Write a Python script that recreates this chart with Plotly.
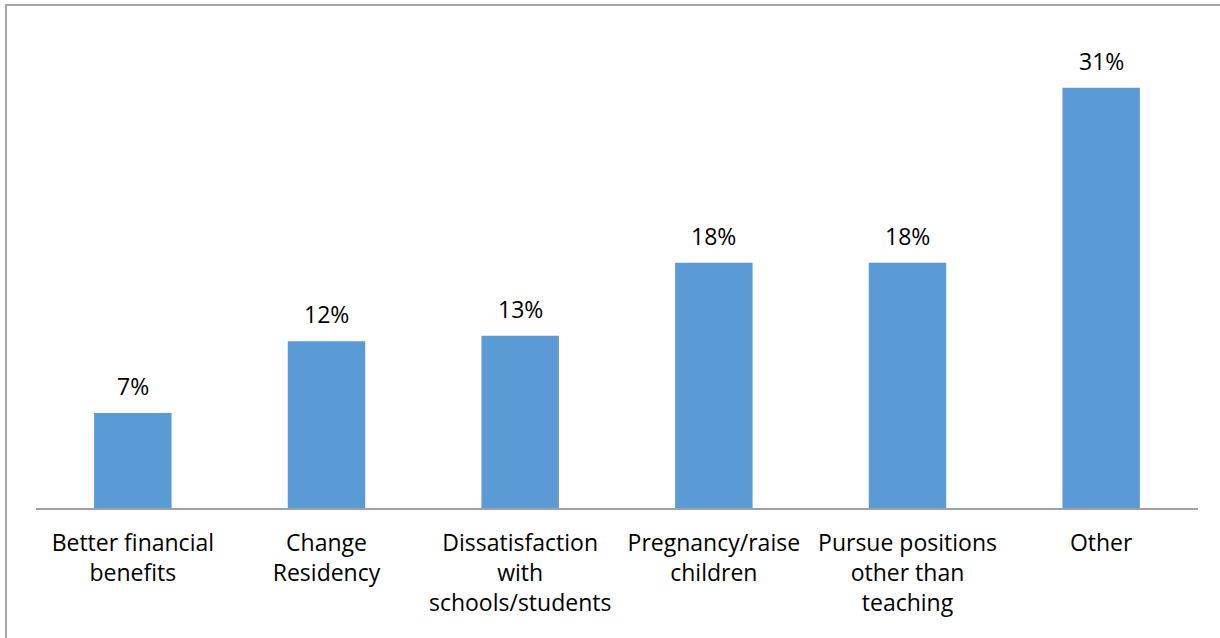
import plotly.graph_objects as go

categories = [
    "Better financial<br>benefits",
    "Change<br>Residency",
    "Dissatisfaction<br>with<br>schools/students",
    "Pregnancy/raise<br>children",
    "Pursue positions<br>other than<br>teaching",
    "Other",
]
values = [0.070, 0.123, 0.127, 0.181, 0.181, 0.310]

FONT = "Open Sans"
SIZE = 23

fig = go.Figure(
    go.Bar(
        x=categories,
        y=values,
        marker=dict(color="#5B9BD5", line=dict(width=0)),
        cliponaxis=False,
    )
)

annotations = [
    dict(
        x=c,
        y=v,
        xref="x",
        yref="y",
        text=f"{v:.0%}",
        showarrow=False,
        yanchor="middle",
        yshift=27,
        font=dict(family=FONT, size=SIZE, color="#000000"),
    )
    for c, v in zip(categories, values)
]

fig.update_layout(
    width=1220,
    height=638,
    margin=dict(l=36, r=22, t=20, b=130),
    paper_bgcolor="white",
    plot_bgcolor="white",
    bargap=0.6,
    showlegend=False,
    font=dict(family=FONT, size=SIZE, color="#000000"),
    annotations=annotations,
    shapes=[
        dict(
            type="rect",
            xref="paper",
            yref="paper",
            x0=-0.0258,
            x1=1.5,
            y0=-0.5,
            y1=1.0307,
            line=dict(color="#A6A6A6", width=2),
            fillcolor="rgba(0,0,0,0)",
            layer="below",
        )
    ],
)

fig.update_xaxes(
    showline=True,
    linecolor="#A0A0A0",
    linewidth=1.5,
    ticks="",
    ticklabelstandoff=14,
    tickfont=dict(family=FONT, size=SIZE, color="#000000"),
    showgrid=False,
)
fig.update_yaxes(
    range=[0, 0.36],
    visible=False,
    showgrid=False,
)

fig.write_html("out.html")
